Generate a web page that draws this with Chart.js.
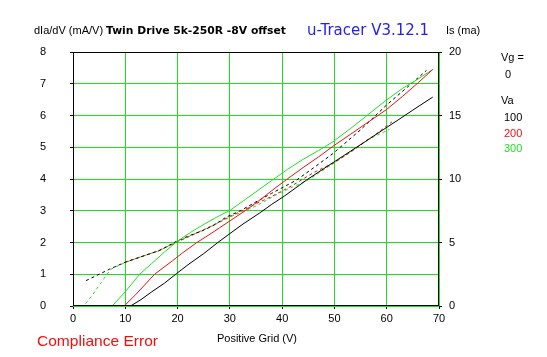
<!DOCTYPE html>
<html><head><meta charset="utf-8">
<script src="https://cdn.jsdelivr.net/npm/chart.js@4.4.1/dist/chart.umd.min.js"></script>
<style>html,body{margin:0;padding:0;background:#fff;}canvas{display:block;}</style>
</head><body>
<canvas id="c" width="547" height="357"></canvas>
<script>
// ---- data (grid voltage V, value on left-axis scale) ----
const xTickValues = [0,10,20,30,40,50,60,70];
const yLeftTicks = [0,1,2,3,4,5,6,7,8];
const yRightTicks = [0,5,10,15,20];
const vaLabels = ['100','200','300'];

// solid traces
const solid100X = [11.0,13,15,17.5,19.8,22,25,27.7,30,32.5,35.7,38,40.5,44.6,48,52,56,59.3,62,65,68.8];
const solid100Y = [0,0.2,0.44,0.72,1.02,1.3,1.65,2.0,2.28,2.58,2.93,3.2,3.47,3.96,4.33,4.76,5.19,5.55,5.84,6.17,6.58];
const solid200X = [9.9,12,15.6,19,21,23.7,26,28,30,33.1,35.7,38,40.5,44,47,49.7,53,56,59.9,63,66,68.8];
const solid200Y = [0.02,0.36,1.0,1.42,1.68,2.0,2.24,2.46,2.68,3.02,3.33,3.63,3.94,4.36,4.7,5.03,5.4,5.74,6.18,6.6,7.03,7.45];
const solid300X = [7.5,10,12.75,15,17.5,19.8,22.5,25,27.5,30,33,35.7,37.9,41,44,47,49.7,53,56,59.9,63,66,68.8];
const solid300Y = [0,0.45,1.0,1.33,1.7,2.02,2.32,2.57,2.8,3.01,3.36,3.68,3.94,4.3,4.62,4.9,5.17,5.58,5.97,6.48,6.85,7.15,7.45];
// dashed traces
const dash100X = [2.5,5,7,10,13,16.6,19.8,22,24.9,27,29.3,32,35,38,42.7,46,49.7,55,59.9,64,67.6];
const dash100Y = [0.8,1.0,1.16,1.38,1.55,1.75,2.04,2.2,2.38,2.55,2.8,3.0,3.28,3.55,3.96,4.35,4.8,5.55,6.32,6.9,7.42];
const dash200X = [10,16,20,25,28,30,33,35,38,42,46,50,54,58,61];
const dash200Y = [1.38,1.72,2.02,2.4,2.65,2.82,3.05,3.22,3.45,3.8,4.2,4.52,4.95,5.42,5.8];
const dash300X = [2.4,3.5,5,6.3,7.2,8,10,13,16.6,20,25,27,30,35,40,44.9,49.7,52.9,56.1,60.5];
const dash300Y = [0.08,0.3,0.65,0.95,1.15,1.22,1.37,1.55,1.75,2.03,2.4,2.55,2.8,3.15,3.6,3.96,4.48,4.82,5.22,5.56];

const GREEN = '#1fe01f';
const RED = '#ee0f0f';
const BLACK = '#000000';

const pts = (xs, ys) => xs.map((x, i) => ({x, y: ys[i]}));
function ds(xs, ys, color, dashed){
  return {data: pts(xs, ys), borderColor: color, borderWidth: 1, borderDash: dashed ? [3,3] : [],
          pointRadius: 0, tension: 0, fill: false, yAxisID: 'y'};
}

const FONT = 'Liberation Sans, Arial, sans-serif';

const textPlugin = {
  id: 'texts',
  afterDraw(chart){
    const ctx = chart.ctx, a = chart.chartArea;
    ctx.save();
    // frame
    ctx.strokeStyle = BLACK; ctx.lineWidth = 1;
    ctx.strokeRect(Math.round(a.left)+0.5, Math.round(a.top)+0.5, Math.round(a.right-a.left)-1, Math.round(a.bottom-a.top)-1);
    ctx.textBaseline = 'middle'; ctx.textAlign = 'left';
    // title
    ctx.fillStyle = BLACK;
    ctx.font = '11px ' + FONT;
    ctx.fillText('dIa/dV (mA/V)', 34, 31);
    fitText(ctx, 'Twin Drive 5k-250R -8V offset', 'bold', 'DejaVu Sans', 180);
    ctx.fillText('Twin Drive 5k-250R -8V offset', 106, 31);
    ctx.fillStyle = '#2222ee';
    fitText(ctx, 'u-Tracer V3.12.1', '', 'DejaVu Sans', 122);
    ctx.fillText('u-Tracer V3.12.1', 307, 31);
    ctx.fillStyle = BLACK;
    ctx.font = '11px ' + FONT;
    ctx.fillText('Is (ma)', 446, 31);
    // legend
    ctx.fillText('Vg =', 501, 58);
    ctx.fillText('0', 505, 75);
    ctx.fillText('Va', 501, 101);
    const cols = [BLACK, RED, GREEN];
    vaLabels.forEach((t, i) => { ctx.fillStyle = cols[i]; ctx.fillText(t, 504, 118 + i*15.5); });
    // axis title
    ctx.fillStyle = BLACK; ctx.textAlign = 'center';
    ctx.fillText('Positive Grid (V)', 257, 339);
    // compliance error
    ctx.textAlign = 'left'; ctx.fillStyle = RED;
    fitText(ctx, 'Compliance Error', '', 'Liberation Sans', 121);
    ctx.fillText('Compliance Error', 37, 342);
    ctx.restore();
  }
};
function fitText(ctx, text, weight, family, target){
  ctx.font = `${weight} 20px "${family}"`;
  const w = ctx.measureText(text).width;
  const s = 20 * target / w;
  ctx.font = `${weight} ${s.toFixed(2)}px "${family}"`;
}

new Chart(document.getElementById('c'), {
  type: 'line',
  data: { datasets: [
    ds(solid100X, solid100Y, BLACK, false),
    ds(solid200X, solid200Y, RED, false),
    ds(solid300X, solid300Y, GREEN, false),
    ds(dash100X, dash100Y, BLACK, true),
    ds(dash200X, dash200Y, RED, true),
    ds(dash300X, dash300Y, GREEN, true)
  ]},
  options: {
    responsive: false, animation: false, devicePixelRatio: 1,
    layout: { padding: { top: 52, left: 0, right: 0, bottom: 0 } },
    plugins: { legend: { display: false }, tooltip: { enabled: false }, title: { display: false } },
    scales: {
      x: { type: 'linear', min: 0, max: 70,
        afterBuildTicks: s => { s.ticks = xTickValues.map(v => ({value: v})); },
        ticks: { color: BLACK, font: { family: FONT, size: 11 }, padding: 3, maxRotation: 0, autoSkip: false },
        grid: { color: GREEN, lineWidth: 1, tickColor: BLACK, tickLength: 3 },
        border: { display: false },
        afterFit: s => { s.height = 51; } },
      y: { position: 'left', min: 0, max: 8,
        afterBuildTicks: s => { s.ticks = yLeftTicks.map(v => ({value: v})); },
        ticks: { color: BLACK, font: { family: FONT, size: 11 }, padding: 24 },
        grid: { color: GREEN, lineWidth: 1, tickColor: BLACK, tickLength: 3 },
        border: { display: false },
        afterFit: s => { s.width = 73; } },
      y2: { position: 'right', min: 0, max: 20,
        afterBuildTicks: s => { s.ticks = yRightTicks.map(v => ({value: v})); },
        ticks: { color: BLACK, font: { family: FONT, size: 11 }, padding: 7 },
        grid: { drawOnChartArea: false, tickColor: BLACK, tickLength: 3 },
        border: { display: false },
        afterFit: s => { s.width = 108; } }
    }
  },
  plugins: [textPlugin]
});
</script>
</body></html>
